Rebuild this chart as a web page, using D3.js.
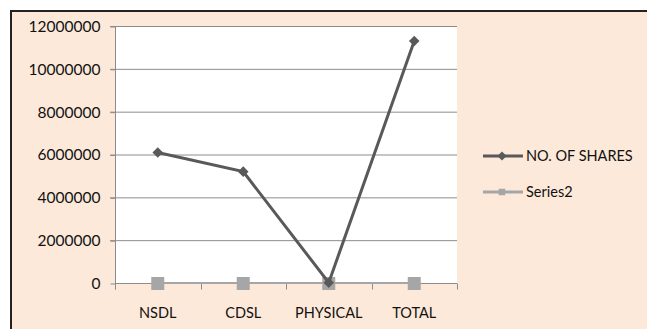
<!DOCTYPE html>
<html lang="en">
<head>
    <meta charset="UTF-8">
    <script src="https://cdnjs.cloudflare.com/ajax/libs/d3/7.8.5/d3.min.js"></script>
    <style>
        body { margin: 0; background: #fff; }
        text { font-family: Lato, "Open Sans", sans-serif; font-size: 14.5px; fill: #111; }
    </style>
</head>
<body>
<svg id="chart" width="647" height="329"></svg>
<script>
    const categories = ["NSDL", "CDSL", "PHYSICAL", "TOTAL"];
    const shares = [6090000, 5200000, 15000, 11300000];
    const series2 = [0, 0, 0, 0];
    const yTicks = [0, 2000000, 4000000, 6000000, 8000000, 10000000, 12000000];

    const svg = d3.select("#chart");

    // outer frame
    svg.append("rect")
        .attr("x", 11).attr("y", 11).attr("width", 660).attr("height", 340)
        .style("fill", "#fde9da")
        .style("stroke", "#222").style("stroke-width", 2);

    const plotL = 115, plotR = 457, plotT = 26, plotB = 283;

    const x = d3.scaleBand().domain(categories).range([plotL, plotR]);
    const y = d3.scaleLinear().domain([0, 12000000]).range([plotB, plotT]);

    svg.append("rect")
        .attr("x", plotL).attr("y", plotT)
        .attr("width", plotR - plotL).attr("height", plotB - plotT)
        .style("fill", "#fff");

    // gridlines
    svg.append("g").selectAll("line")
        .data(yTicks.filter(d => d > 0))
        .enter().append("line")
        .attr("x1", plotL - 5).attr("x2", plotR)
        .attr("y1", d => y(d) + 0.5).attr("y2", d => y(d) + 0.5)
        .style("stroke", "#8c8c8c").style("stroke-width", 1);

    // y axis
    const yAxis = svg.append("g")
        .attr("transform", `translate(${plotL + 0.5},0.5)`)
        .call(d3.axisLeft(y).tickValues(yTicks).tickFormat(d3.format("d")).tickSize(5).tickPadding(10));
    yAxis.selectAll("path, line").style("stroke", "#8c8c8c");
    yAxis.select(".domain").attr("d", `M-5,${plotT}H0V${plotB + 6}`);
    yAxis.selectAll("text").style("font-family", "Lato, sans-serif").style("font-size", "15.5px").style("fill", "#111");

    // x axis
    const xAxis = svg.append("g")
        .attr("transform", `translate(0,${plotB + 0.5})`);
    xAxis.append("line")
        .attr("x1", plotL).attr("x2", plotR)
        .style("stroke", "#8c8c8c");
    xAxis.selectAll("line.tick")
        .data(d3.range(categories.length + 1))
        .enter().append("line")
        .attr("class", "tick")
        .attr("x1", i => Math.round(plotL + i * x.bandwidth()) + 0.5)
        .attr("x2", i => Math.round(plotL + i * x.bandwidth()) + 0.5)
        .attr("y1", 0).attr("y2", 6)
        .style("stroke", "#8c8c8c");
    xAxis.selectAll("text")
        .data(categories)
        .enter().append("text")
        .attr("x", d => x(d) + x.bandwidth() / 2)
        .attr("y", 34)
        .attr("text-anchor", "middle")
        .text(d => d);

    const cx = d => x(d) + x.bandwidth() / 2;

    // Series2
    svg.append("path")
        .datum(series2)
        .attr("d", d3.line().x((d, i) => cx(categories[i])).y(d => y(d)))
        .style("fill", "none").style("stroke", "#a6a6a6").style("stroke-width", 2);
    svg.append("g").selectAll("rect")
        .data(series2)
        .enter().append("rect")
        .attr("x", (d, i) => cx(categories[i]) - 6.5)
        .attr("y", d => y(d) - 6)
        .attr("width", 13).attr("height", 13)
        .style("fill", "#a6a6a6");

    // NO. OF SHARES
    svg.append("path")
        .datum(shares)
        .attr("d", d3.line().x((d, i) => cx(categories[i])).y(d => y(d)))
        .style("fill", "none").style("stroke", "#595959").style("stroke-width", 3);
    const diamond = d3.symbol().type(d3.symbolSquare).size(56);
    svg.append("g").selectAll("path")
        .data(shares)
        .enter().append("path")
        .attr("d", diamond)
        .attr("transform", (d, i) => `translate(${cx(categories[i])},${y(d)}) rotate(45)`)
        .style("fill", "#595959");

    // legend
    const legend = [
        { name: "NO. OF SHARES", color: "#595959", marker: "diamond", y: 156 },
        { name: "Series2", color: "#a6a6a6", marker: "square", y: 192 }
    ];
    const lg = svg.append("g").selectAll("g").data(legend).enter().append("g")
        .attr("transform", d => `translate(483,${d.y})`);
    lg.append("line")
        .attr("x1", 0).attr("x2", 40)
        .style("stroke", d => d.color).style("stroke-width", 3);
    lg.append("path")
        .attr("d", d3.symbol().type(d3.symbolSquare).size(42))
        .attr("transform", d => d.marker === "diamond" ? "translate(19,0) rotate(45)" : "translate(19,0)")
        .style("fill", d => d.color);
    lg.append("text")
        .attr("x", 43).attr("y", 5)
        .text(d => d.name);
</script>
</body>
</html>
